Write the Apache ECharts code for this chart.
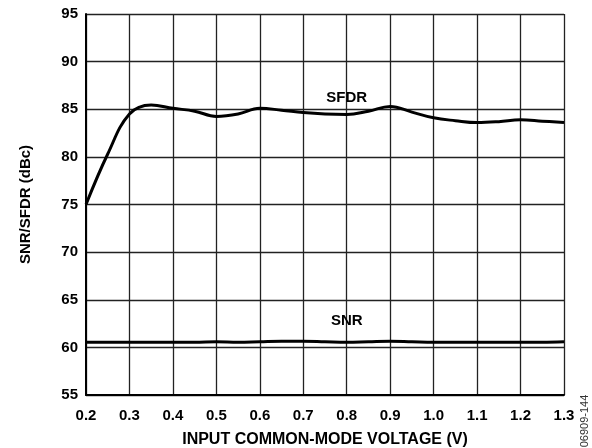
<!DOCTYPE html>
<html>
<head>
<meta charset="utf-8">
<script src="https://cdn.jsdelivr.net/npm/echarts@6/dist/echarts.min.js"></script>
<style>
html, body { margin: 0; padding: 0; background: #fff; }
#chart { width: 592px; height: 448px; }
</style>
</head>
<body>
<div id="chart"></div>
<script>
const voltage = [0.2, 0.25, 0.3, 0.35, 0.4, 0.45, 0.5, 0.55, 0.6, 0.65, 0.7, 0.75, 0.8, 0.85, 0.9, 0.95, 1.0, 1.05, 1.1, 1.15, 1.2, 1.25, 1.3];
const sfdr = [75.0, 80.3, 84.5, 85.45, 85.1, 84.8, 84.25, 84.5, 85.1, 84.9, 84.65, 84.5, 84.45, 84.8, 85.3, 84.7, 84.1, 83.8, 83.6, 83.7, 83.9, 83.75, 83.6];
const snr = [60.55, 60.55, 60.55, 60.55, 60.55, 60.55, 60.6, 60.55, 60.6, 60.65, 60.65, 60.6, 60.55, 60.6, 60.65, 60.6, 60.55, 60.55, 60.55, 60.55, 60.55, 60.55, 60.6];
const xTicks = ["0.2", "0.3", "0.4", "0.5", "0.6", "0.7", "0.8", "0.9", "1.0", "1.1", "1.2", "1.3"];

const chart = echarts.init(document.getElementById("chart"));
const font = "'Liberation Sans', Arial, sans-serif";

function pairs (ys) {
	return voltage.map((x, i) => [x, ys[i]]);
}

function tag (text, coord) {
	return {
		symbol: "rect",
		symbolSize: 1,
		itemStyle: { color: "rgba(0,0,0,0)" },
		data: [{ coord: coord }],
		label: {
			show: true, position: "inside", formatter: text,
			fontFamily: font, fontWeight: "bold", fontSize: 15, color: "#000"
		}
	};
}

const option = {
	animation: false,
	textStyle: { fontFamily: font },
	grid: { left: 86, right: 28, top: 14, bottom: 53, outerBoundsMode: "none" },
	xAxis: {
		type: "value",
		min: 0.2,
		max: 1.3,
		interval: 0.1,
		name: "INPUT COMMON-MODE VOLTAGE (V)",
		nameLocation: "middle",
		nameGap: 37,
		nameTextStyle: { fontFamily: font, fontWeight: "bold", fontSize: 16, color: "#000" },
		axisLine: { lineStyle: { color: "#000", width: 2 } },
		axisTick: { show: false },
		axisLabel: {
			fontFamily: font, fontWeight: "bold", fontSize: 15, color: "#000", margin: 13,
			formatter: v => xTicks[Math.round((v - 0.2) * 10)]
		},
		splitLine: { show: true, lineStyle: { color: "#222", width: 1.3 } }
	},
	yAxis: {
		type: "value",
		min: 55,
		max: 95,
		interval: 5,
		name: "SNR/SFDR (dBc)",
		nameLocation: "middle",
		nameGap: 53,
		nameTextStyle: { fontFamily: font, fontWeight: "bold", fontSize: 15, color: "#000" },
		axisLine: { show: true, lineStyle: { color: "#000", width: 2 } },
		axisTick: { show: false },
		axisLabel: { fontFamily: font, fontWeight: "bold", fontSize: 15, color: "#000", margin: 8 },
		splitLine: { show: true, lineStyle: { color: "#222", width: 1.3 } }
	},
	series: [{
		name: "SFDR",
		type: "line",
		data: pairs(sfdr),
		smooth: 0.4,
		symbol: "none",
		lineStyle: { color: "#000", width: 3 },
		markPoint: tag("SFDR", [0.8, 86.2])
	}, {
		name: "SNR",
		type: "line",
		data: pairs(snr),
		smooth: 0.4,
		symbol: "none",
		lineStyle: { color: "#000", width: 3 },
		markPoint: tag("SNR", [0.8, 62.8])
	}],
	graphic: [{
		type: "text",
		x: 585,
		y: 421,
		rotation: Math.PI / 2,
		style: {
			text: "06909-144",
			fontFamily: font,
			fontSize: 11,
			fill: "#333",
			align: "center",
			verticalAlign: "middle"
		}
	}]
};

chart.setOption(option);
</script>
</body>
</html>
